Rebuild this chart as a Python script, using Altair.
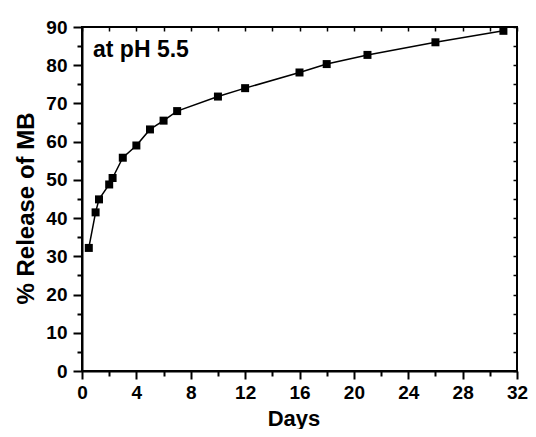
import altair as alt
import pandas as pd

days = [0.5, 1, 1.25, 2, 2.25, 3, 4, 5, 6, 7, 10, 12, 16, 18, 21, 26, 31]
release = [32.2, 41.5, 44.9, 48.8, 50.5, 55.8, 59.0, 63.2, 65.5, 68.0, 71.8, 74.0, 78.1, 80.3, 82.7, 86.0, 89.0]

x_major = [0, 4, 8, 12, 16, 20, 24, 28, 32]
x_minor = [2, 6, 10, 14, 18, 22, 26, 30]
y_major = [0, 10, 20, 30, 40, 50, 60, 70, 80, 90]
y_minor = [5, 15, 25, 35, 45, 55, 65, 75, 85]
x_top = [0, 2, 4, 6, 8, 10, 12, 14, 16, 18, 20, 22, 24, 26, 28, 30, 32]
y_right = [0, 5, 10, 15, 20, 25, 30, 35, 40, 45, 50, 55, 60, 65, 70, 75, 80, 85, 90]
annotation = ["at pH 5.5"]

df = pd.DataFrame({"day": days, "release": release})

W, H = 435, 344
FONT = "Liberation Sans"

xs = alt.Scale(domain=[0, 32], nice=False, zero=False)
ys = alt.Scale(domain=[0, 90], nice=False, zero=False)

common = dict(grid=False, tickColor="black", domainColor="black")

x_major_axis = alt.Axis(
    orient="bottom", values=x_major, tickSize=8, tickWidth=2, domainWidth=2,
    labelFont=FONT, labelFontWeight="bold", labelFontSize=19, labelColor="black",
    labelPadding=4, labelFlush=False, labelOverlap=False, format="d",
    title="Days", titleFont=FONT, titleFontWeight="bold", titleFontSize=22,
    titleColor="black", titleX=211.5, titleY=54, titleBaseline="alphabetic",
    titleAlign="center", **common)
y_major_axis = alt.Axis(
    orient="left", values=y_major, tickSize=9, tickWidth=2, domainWidth=2,
    labelFont=FONT, labelFontWeight="bold", labelFontSize=19, labelColor="black",
    labelPadding=6, labelFlush=False, labelOverlap=False, format="d",
    title="% Release of MB", titleFont=FONT, titleFontWeight="bold", titleFontSize=24,
    titleColor="black", titleAngle=270, titleX=-49, titleY=181,
    titleBaseline="alphabetic", titleAlign="center", **common)

x_minor_axis = alt.Axis(orient="bottom", values=x_minor, tickSize=5, tickWidth=2,
                        labels=False, domain=False, title=None, **common)
y_minor_axis = alt.Axis(orient="left", values=y_minor, tickSize=5, tickWidth=2,
                        labels=False, domain=False, title=None, **common)

x_top_axis = alt.Axis(orient="bottom", offset=-H, values=x_top, tickSize=4, tickWidth=1.5,
                      labels=False, domain=False, title=None, **common)
y_right_axis = alt.Axis(orient="left", offset=-W, values=y_right, tickSize=4, tickWidth=1.5,
                        labels=False, domain=False, title=None, **common)

base = alt.Chart(df)

line = base.mark_line(color="black", strokeWidth=1.5).encode(
    x=alt.X("day:Q", scale=xs, axis=x_major_axis),
    y=alt.Y("release:Q", scale=ys, axis=y_major_axis),
)

points = base.mark_point(shape="square", filled=True, size=64, color="black", opacity=1).encode(
    x=alt.X("day:Q", scale=xs, axis=x_minor_axis),
    y=alt.Y("release:Q", scale=ys, axis=y_minor_axis),
)

frame_ticks = base.mark_point(opacity=0).encode(
    x=alt.X("day:Q", scale=xs, axis=x_top_axis),
    y=alt.Y("release:Q", scale=ys, axis=y_right_axis),
)

text = alt.Chart(pd.DataFrame({"t": annotation})).mark_text(
    align="left", baseline="alphabetic", font=FONT, fontWeight="bold",
    fontSize=23, color="black",
).encode(x=alt.value(11), y=alt.value(30), text="t:N")

chart = (
    alt.layer(line, points, frame_ticks, text)
    .resolve_axis(x="independent", y="independent")
    .properties(width=W, height=H, autosize=alt.AutoSizeParams(type="none"),
                padding={"left": 74, "top": 19, "right": 11, "bottom": 58},
                background="white")
    .configure_view(stroke="black", strokeWidth=2)
)

chart.save("out.html", embed_options={"renderer": "svg", "actions": False})
